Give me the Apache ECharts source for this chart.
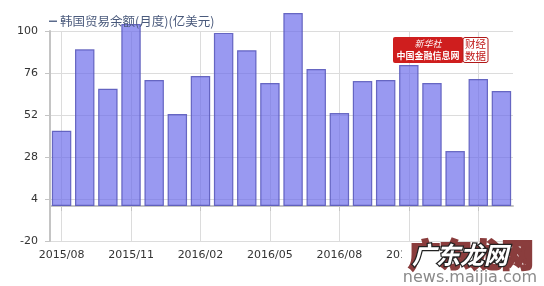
<!DOCTYPE html>
<html>
<head>
<meta charset="utf-8">
<script src="https://cdn.jsdelivr.net/npm/echarts@6/dist/echarts.min.js"></script>
<style>html,body{margin:0;padding:0;background:#fff;}#c{width:544px;height:286px;}</style>
</head>
<body>
<div id="c"></div>
<script>
var categories = ['2015/08','2015/09','2015/10','2015/11','2015/12','2016/01','2016/02','2016/03','2016/04','2016/05','2016/06','2016/07','2016/08','2016/09','2016/10','2016/11','2016/12','2017/01','2017/02','2017/03'];
var tradeBalance = [43, 89.5, 67, 104, 72, 52.6, 74.3, 98.9, 89, 70.3, 110.3, 78.3, 53.1, 71.4, 72, 80.6, 70.3, 31.4, 72.6, 65.7];
var seriesName = '韩国贸易余额(月度)(亿美元)';
var yTicks = [-20, 4, 28, 52, 76, 100];

var chart = echarts.init(document.getElementById('c'), null, {renderer: 'canvas'});
var font = '"DejaVu Sans", Verdana, sans-serif';
chart.setOption({
  animation: false,
  backgroundColor: '#fff',
  grid: {left: 50, right: 31, top: 31, bottom: 45},
  legend: {
    show: true,
    left: 49, top: 15,
    icon: 'rect', itemWidth: 8, itemHeight: 1.5, itemGap: 4,
    padding: 0,
    itemStyle: {color: '#5b6b8c', borderWidth: 0},
    textStyle: {color: '#4a5a7c', fontSize: 12.5, fontFamily: '"Noto Sans CJK SC", sans-serif', padding: [0,0,0,-2]},
    data: [seriesName]
  },
  xAxis: {
    type: 'category',
    data: categories,
    boundaryGap: true,
    axisLine: {lineStyle: {color: '#c4c4c4', width: 2}},
    axisTick: {show: true, interval: 2, alignWithLabel: true, length: 5, lineStyle: {color: '#c4c4c4', width: 1}},
    axisLabel: {interval: 2, color: '#333', fontSize: 11, fontFamily: font, margin: 9},
    splitLine: {show: true, interval: 2, alignWithLabel: true, lineStyle: {color: '#dcdcdc', width: 1}}
  },
  yAxis: {
    type: 'value',
    min: yTicks[0], max: yTicks[yTicks.length - 1], interval: 24,
    axisLine: {show: true, lineStyle: {color: '#c4c4c4', width: 2}},
    axisTick: {show: true, length: 5, lineStyle: {color: '#c4c4c4'}},
    axisLabel: {color: '#333', fontSize: 11, fontFamily: font, margin: 12},
    splitLine: {show: true, lineStyle: {color: '#dcdcdc', width: 1}}
  },
  series: [{
    name: seriesName,
    type: 'bar',
    data: tradeBalance,
    clip: false,
    barCategoryGap: '16%',
    itemStyle: {color: 'rgba(105,105,235,0.68)', borderColor: 'rgba(85,85,185,0.85)', borderWidth: 1.2}
  }],
  graphic: [
    {type: 'rect', shape: {x: 393, y: 37, width: 70, height: 26, r: 2}, style: {fill: '#cf1e1e'}, z: 10},
    {type: 'rect', shape: {x: 463, y: 37.5, width: 25, height: 25, r: 2}, style: {fill: '#fff', stroke: '#b01818', lineWidth: 1}, z: 10},
    {type: 'text', x: 428, y: 44, style: {text: '新华社', fill: '#fff', fontSize: 9, fontStyle: 'italic', fontFamily: '"Noto Sans CJK SC"', align: 'center', verticalAlign: 'middle'}, z: 11},
    {type: 'text', x: 428, y: 56, style: {text: '中国金融信息网', fill: '#fff', fontSize: 9, fontWeight: 'bold', fontFamily: '"Noto Sans CJK SC"', align: 'center', verticalAlign: 'middle'}, z: 11},
    {type: 'text', x: 475.5, y: 44, style: {text: '财经', fill: '#c01a1a', fontSize: 10.5, fontFamily: '"Noto Sans CJK SC"', align: 'center', verticalAlign: 'middle'}, z: 11},
    {type: 'text', x: 475.5, y: 56, style: {text: '数据', fill: '#c01a1a', fontSize: 10.5, fontFamily: '"Noto Sans CJK SC"', align: 'center', verticalAlign: 'middle'}, z: 11},
    {type: 'rect', shape: {x: 402, y: 243, width: 142, height: 43}, style: {fill: '#fff'}, z: 20},
    {type: 'text', x: 471, y: 254, style: {text: '广东龙网', fill: '#8a3d3d', stroke: '#8a3d3d', lineWidth: 3, fontSize: 31, fontWeight: 'bold', fontFamily: '"Noto Sans CJK SC"', align: 'center', verticalAlign: 'middle'}, z: 21},
    {type: 'text', x: 460, y: 255, style: {text: '广东龙网', fill: '#fff', stroke: '#222', lineWidth: 2.5, fontSize: 24, fontWeight: 'bold', fontStyle: 'italic', fontFamily: '"Noto Sans CJK SC"', align: 'center', verticalAlign: 'middle'}, z: 22},
    {type: 'text', x: 470, y: 278, style: {text: 'news.maijia.com', fill: '#8a8a8a', fontSize: 16, fontFamily: '"DejaVu Sans"', align: 'center', verticalAlign: 'middle'}, z: 21}
  ]
});
</script>
</body>
</html>
